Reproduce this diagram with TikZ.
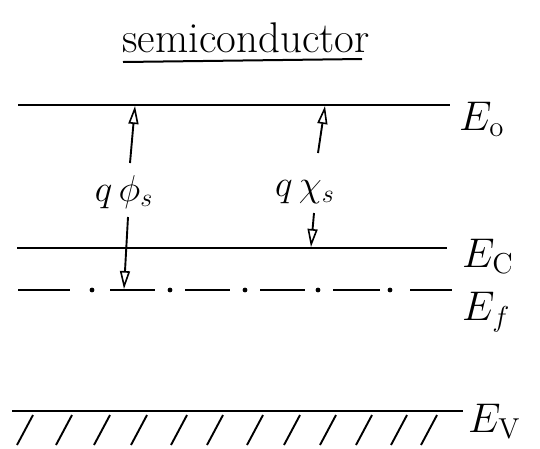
\documentclass[tikz,border=0pt]{standalone}
\usepackage{graphicx}
\usetikzlibrary{arrows.meta}
\newcommand{\bigE}[1]{\scalebox{2.0}{#1}}
\newcommand{\bigQ}[1]{\scalebox{1.8}{#1}}
\begin{document}
\begin{tikzpicture}[x=1pt,y=-1pt,
  level/.style={line width=2.4pt},
  elabel/.style={anchor=base west,inner sep=0pt,font=\huge},
  qlabel/.style={inner sep=0pt,font=\huge},
  updown/.style={line width=1.9pt,-{Triangle[open,length=18pt,width=10pt,line width=1.6pt]}},
  hatch/.style={line width=1.9pt}]
\useasboundingbox (0,0) rectangle (540,448);
% title
\node[inner sep=0pt,font=\huge,anchor=base] (title) at (246,52) {\scalebox{2.07}{semiconductor}};
\coordinate (ul1) at (123,62);
\coordinate (ul2) at (362,59);
\draw[line width=2pt] (ul1) -- (ul2);
% levels
\coordinate (e0a) at (18,105); \coordinate (e0b) at (450,105);
\coordinate (eca) at (17,248); \coordinate (ecb) at (447,248);
\coordinate (eva) at (12,411); \coordinate (evb) at (463,411);
\draw[level] (e0a) -- (e0b);
\draw[level] (eca) -- (ecb);
\foreach \a/\b in {18/70,110/155,185/230,260/305,333/380,410/452}{
  \draw[level] (\a,290) -- (\b,290);}
\foreach \x in {92,170,245,318,390}{\fill (\x,290) circle (2.4pt);}
\coordinate (efb) at (452,290);
\draw[level] (eva) -- (evb);
\foreach \x in {33,72,110,147,187,223,263,300,336,372,407,437}{
  \draw[hatch] (\x,415) -- ++(-16,30);}
% labels
\node[elabel] (E0) at (459,130) {\bigE{$E_\mathrm{o}$}};
\node[elabel] (Ec) at (462,267) {\bigE{$E_\mathrm{C}$}};
\node[elabel] (Ef) at (462,320) {\bigE{$E_f$}};
\node[elabel] (Ev) at (468,432) {\bigE{$E_\mathrm{V}$}};
% q phi_s
\node[qlabel] (phi) at (124,192) {\bigQ{$q\,\phi_s$}};
\coordinate (phitop) at (135,106);
\coordinate (phibot) at (124,289);
\draw[updown] (130,163) -- (phitop);
\draw[updown] (128,217) -- (phibot);
% q chi_s
\node[qlabel] (chi) at (305,192) {\bigQ{$q\,\chi_s$}};
\coordinate (chitop) at (325,106);
\coordinate (chibot) at (311,247);
\draw[updown] (318,153) -- (chitop);
\draw[updown] (314,213) -- (chibot);
\end{tikzpicture}
\end{document}
